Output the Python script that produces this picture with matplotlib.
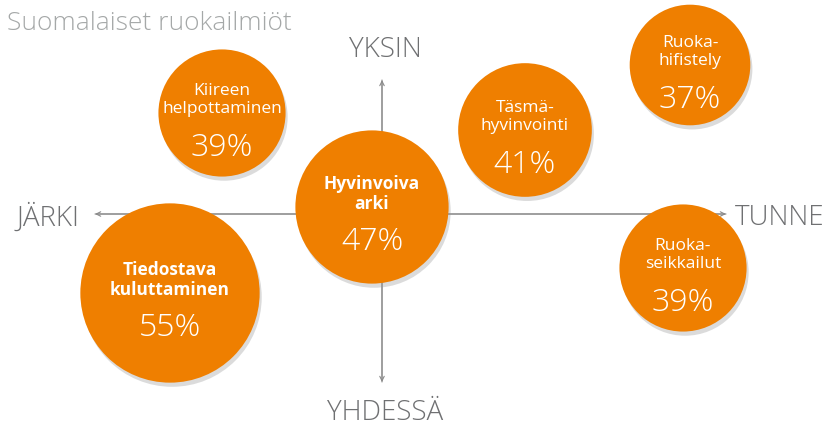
import matplotlib.pyplot as plt
from matplotlib.patches import Circle
import matplotlib.patheffects as pe

# bubble data (positions, origin at the axis crossing)
labels = ["Kiireen\nhelpottaminen", "Täsmä-\nhyvinvointi", "Ruoka-\nhifistely",
          "Hyvinvoiva\narki", "Tiedostava\nkuluttaminen", "Ruoka-\nseikkailut"]
values = [39, 41, 37, 47, 55, 39]
xs = [-160, 143, 308, -10, -212, 301]
ys = [101, 84, 149, 7, -79, -54]
bold = [False, False, False, True, True, False]

orange = "#EF7F00"
gray = "#8a8a8a"

plt.rcParams['font.family'] = ['Open Sans', 'DejaVu Sans']

fig = plt.figure(figsize=(8.25, 4.3), dpi=100)
ax = fig.add_axes([0, 0, 1, 1])
ax.set_xlim(-382, 443)
ax.set_ylim(-216, 214)
ax.axis("off")

# axes arrows
arr = dict(arrowstyle="->", color=gray, lw=0.8, shrinkA=0, shrinkB=0, mutation_scale=8)
ax.annotate("", xy=(-287, 0), xytext=(344, 0), arrowprops=arr, zorder=1)
ax.annotate("", xy=(344, 0), xytext=(-287, 0), arrowprops=arr, zorder=1)
ax.annotate("", xy=(0, 134), xytext=(0, -168), arrowprops=arr, zorder=1)
ax.annotate("", xy=(0, -168), xytext=(0, 134), arrowprops=arr, zorder=1)

axcol = "#6f7072"
ax.text(-334, -4, "JÄRKI", ha="center", va="center", fontsize=20, color=axcol, fontweight="light")
ax.text(398, -4, "TUNNE", ha="center", va="center", fontsize=20, color=axcol, fontweight="light")
ax.text(3, 164, "YKSIN", ha="center", va="center", fontsize=20, color=axcol, fontweight="light")
ax.text(3, -199, "YHDESSÄ", ha="center", va="center", fontsize=20, color=axcol, fontweight="light")
ax.text(-375, 191, "Suomalaiset ruokailmiöt", ha="left", va="center", fontsize=19,
        color="#a5a8a8", fontweight="light")

for lab, v, x, y, b in zip(labels, values, xs, ys, bold):
    r = 1.63 * v
    c = Circle((x, y), r, facecolor=orange, edgecolor="none", zorder=3,
               path_effects=[pe.SimplePatchShadow(offset=(1.5, -3), shadow_rgbFace="#9a9a9a", alpha=0.35),
                             pe.Normal()])
    ax.add_patch(c)
    ax.text(x, y + 13, lab, ha="center", va="center", fontsize=12.5, color="white",
            fontweight="bold" if b else "normal", linespacing=1.1, zorder=4)
    ax.text(x, y - 35, "%d%%" % v, ha="center", va="center", fontsize=23, color="white",
            fontweight="light", zorder=4)

fig.savefig("out.png", dpi=100)
